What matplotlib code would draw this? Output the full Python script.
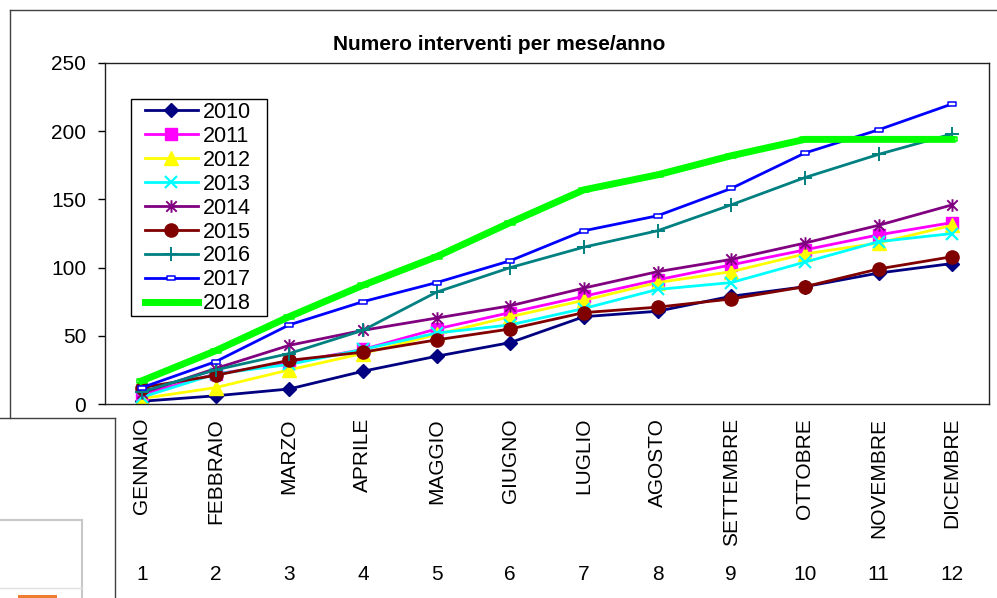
import matplotlib
matplotlib.use('Agg')
import matplotlib.pyplot as plt
import matplotlib.transforms as mtransforms
from matplotlib.path import Path
from matplotlib.lines import Line2D
from matplotlib.patches import Rectangle

plt.rcParams['font.family'] = ['Liberation Sans', 'DejaVu Sans']

title = "Numero interventi per mese/anno"
months = ['GENNAIO', 'FEBBRAIO', 'MARZO', 'APRILE', 'MAGGIO', 'GIUGNO',
          'LUGLIO', 'AGOSTO', 'SETTEMBRE', 'OTTOBRE', 'NOVEMBRE', 'DICEMBRE']
month_num = list(range(1, 13))

y2010 = [2, 6, 11, 24, 35, 45, 64, 68, 79, 86, 96, 103]
y2011 = [7, 22, 30, 40, 55, 67, 79, 91, 102, 113, 124, 133]
y2012 = [4, 12, 25, 37, 51, 64, 76, 89, 97, 110, 118, 131]
y2013 = [5, 22, 29, 40, 52, 58, 70, 84, 89, 104, 119, 125]
y2014 = [8, 26, 43, 54, 63, 72, 85, 97, 106, 118, 131, 146]
y2015 = [12, 21, 32, 38, 47, 55, 67, 71, 77, 86, 99, 108]
y2016 = [9, 25, 37, 54, 82, 100, 115, 127, 146, 166, 183, 198]
y2017 = [12, 31, 58, 75, 89, 105, 127, 138, 158, 184, 201, 220]
y2018 = [17, 39, 64, 87, 108, 133, 157, 168, 182, 194, 194, 194]

# excel-like markers
star = Path([(-1, -1), (1, 1), (-1, 1), (1, -1), (0, -1.2), (0, 1.2)],
            [Path.MOVETO, Path.LINETO, Path.MOVETO, Path.LINETO, Path.MOVETO, Path.LINETO])
rect = Path([(-1, -0.5), (1, -0.5), (1, 0.5), (-1, 0.5), (-1, -0.5)],
            [Path.MOVETO, Path.LINETO, Path.LINETO, Path.LINETO, Path.CLOSEPOLY])

series = (
    ('2010', y2010, '#000080', dict(marker='D', ms=7)),
    ('2011', y2011, '#FF00FF', dict(marker='s', ms=8.5)),
    ('2012', y2012, '#FFFF00', dict(marker='^', ms=9.5)),
    ('2013', y2013, '#00FFFF', dict(marker='x', ms=8, mew=1.6)),
    ('2014', y2014, '#800080', dict(marker=star, ms=9, mew=1.4, mfc='none')),
    ('2015', y2015, '#800000', dict(marker='o', ms=9.5)),
    ('2016', y2016, '#008080', dict(marker='+', ms=10, mew=1.4)),
    ('2017', y2017, '#0000FF', dict(marker=rect, ms=6, mfc='white', mew=1.1)),
    ('2018', y2018, '#00FF00', dict(marker=rect, ms=6.5, mfc='none', mew=1.1)),
)

W, H = 997, 598
fig = plt.figure(figsize=(W / 100, H / 100), dpi=100)
ax = fig.add_axes([105 / W, (H - 404) / H, 884 / W, 341 / H])

for name, vals, col, mk in series:
    lw = 5 if name == '2018' else 2.0
    ax.plot(month_num, vals, color=col, lw=lw, label=name, mec=col, **mk)

ax.set_xlim(0.5, 12.5)
ax.set_ylim(0, 250)
ax.set_yticks(range(0, 251, 50))
ax.set_xticks([])
ax.tick_params(axis='y', direction='out', length=5, width=1, pad=8.5, labelsize=15)
for s in ax.spines.values():
    s.set_linewidth(1.0)
    s.set_color('#202020')

# month names and numbers under the axis
trans = mtransforms.blended_transform_factory(ax.transData, fig.transFigure)
for x, m in zip(month_num, months):
    fig.text(x, 1 - 418 / H, m, rotation=90, ha='center', va='top', fontsize=15, transform=trans)
    fig.text(x, 1 - 575 / H, str(x), ha='center', va='center', fontsize=15, transform=trans)

fig.text(499 / W, 1 - 45 / H, title, ha='center', va='center', fontsize=15, fontweight='bold')

leg = ax.legend(loc='upper left', bbox_to_anchor=(145 / W, 1 - 102 / H),
                bbox_transform=fig.transFigure, frameon=False, fontsize=15.5,
                handlelength=2.45, handletextpad=0.25, labelspacing=0.135,
                borderpad=0, borderaxespad=0, numpoints=1)
fig.add_artist(Rectangle((131 / W, 1 - 316 / H), 136 / W, 217 / H,
                         transform=fig.transFigure, fill=False, ec='black', lw=1))

# chart area borders from the spreadsheet
def fline(xs, ys, col, lw=1.0):
    fig.add_artist(Line2D([v / W for v in xs], [1 - v / H for v in ys],
                          transform=fig.transFigure, color=col, lw=lw))

fline([10, 997], [10, 10], '#404040')
fline([10, 10], [10, 418], '#404040')
fline([0, 115], [418, 418], '#404040')
fline([115, 115], [418, 598], '#404040')
fline([0, 82], [520, 520], '#C8C8C8', 1.5)
fline([82, 82], [520, 598], '#C8C8C8', 1.5)
fline([0, 82], [588, 588], '#E0E0E0', 1.0)
fig.add_artist(Rectangle((18 / W, 0), 39 / W, 3 / H, transform=fig.transFigure,
                         color='#ED7D31', lw=0))

plt.savefig('out.png', dpi=100)
